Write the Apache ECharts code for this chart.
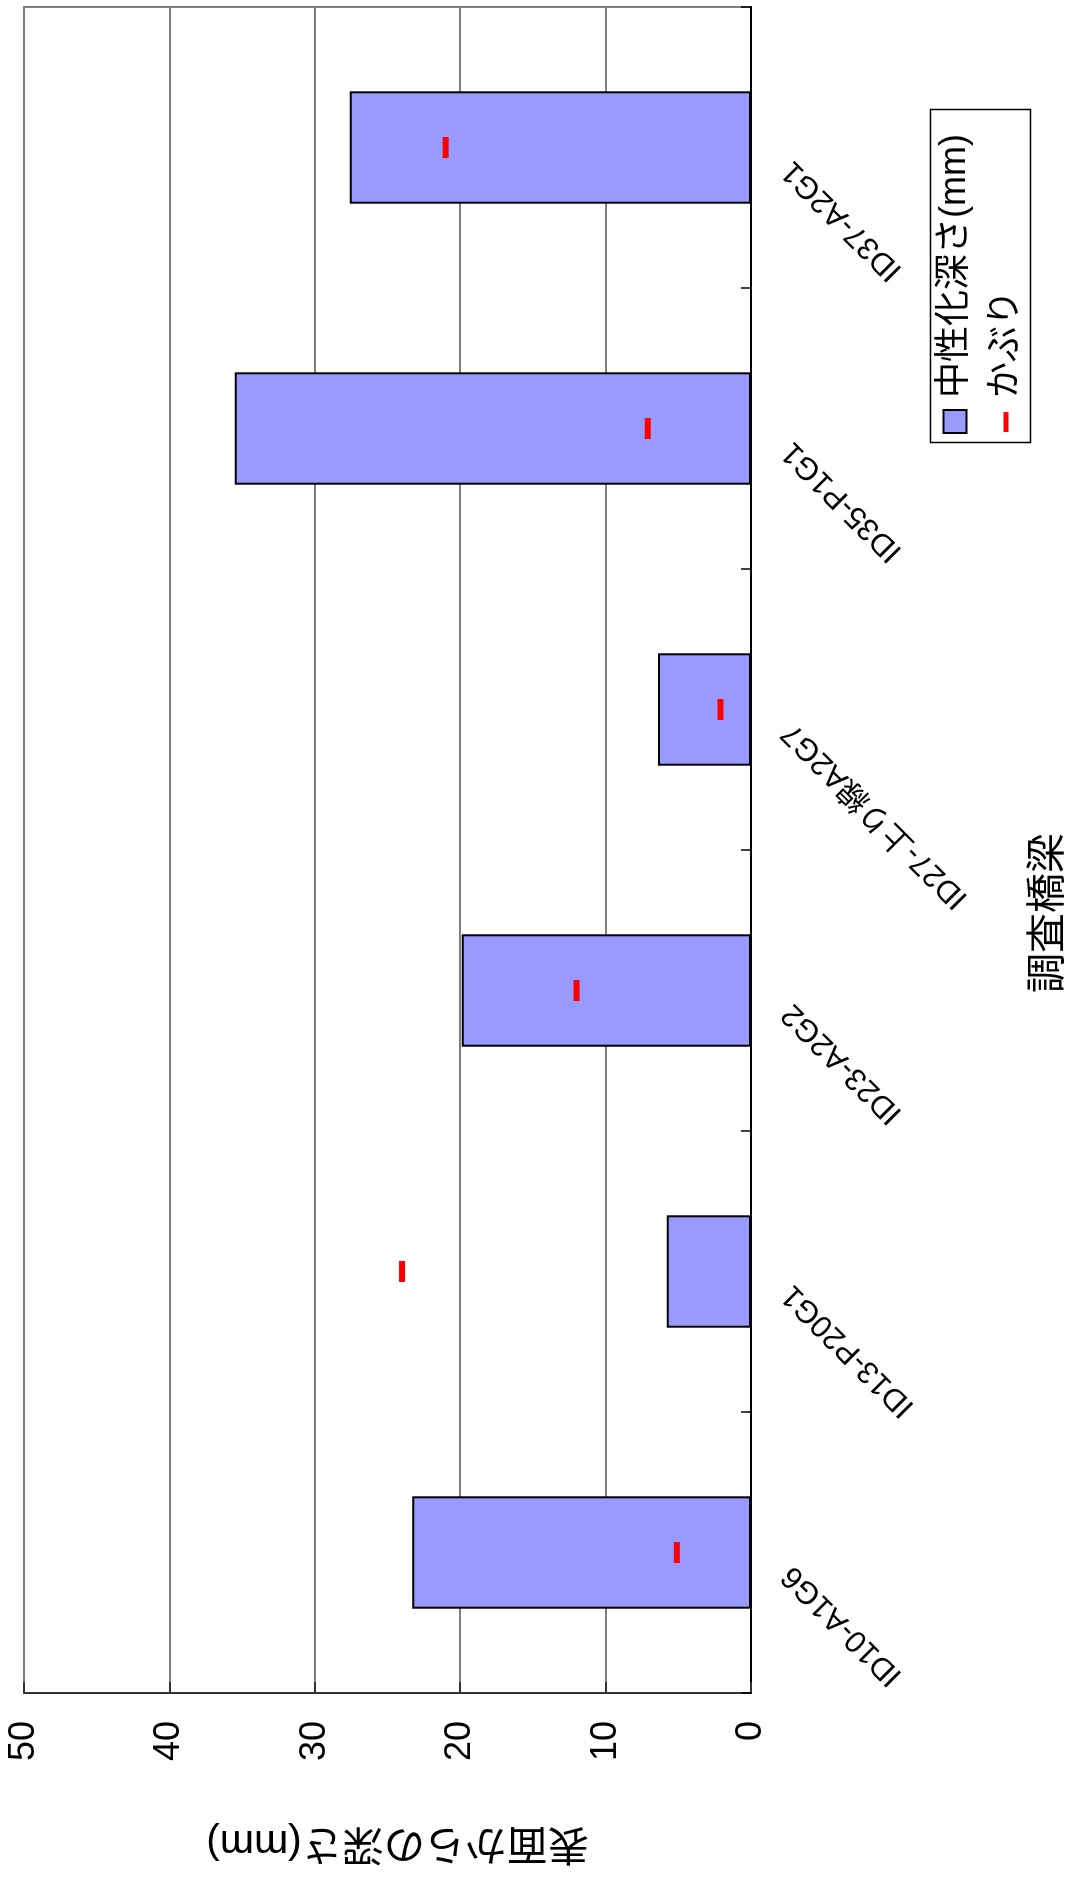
<!DOCTYPE html>
<html>
<head>
<meta charset="utf-8">
<script src="https://cdn.jsdelivr.net/npm/echarts@6/dist/echarts.min.js"></script>
<style>
  html, body { margin: 0; padding: 0; background: #fff; overflow: hidden; width: 1076px; height: 1878px; }
  /* The chart is laid out landscape and turned a quarter-turn counter-clockwise onto the portrait page */
  #chart { position: absolute; left: 0; top: 0; width: 1878px; height: 1076px;
           transform-origin: 0 0; transform: translateY(1878px) rotate(-90deg); }
</style>
</head>
<body>
<div id="chart"></div>
<script>
// Surveyed bridge girders
const bridges = ['ID10-A1G6', 'ID13-P20G1', 'ID23-A2G2', 'ID27-上り線A2G7', 'ID35-P1G1', 'ID37-A2G1'];
// Carbonation depth (mm)
const carbonationDepth = [23.3, 5.8, 19.9, 6.4, 35.5, 27.6];
// Concrete cover (mm)
const coverDepth = [5.1, 24.0, 12.0, 2.1, 7.1, 21.0];
// Depth axis ticks
const depthMin = 0;
const depthMax = 50;
const depthStep = 10;

const FONT = "'Liberation Sans', 'Noto Sans CJK JP', sans-serif";
const chart = echarts.init(document.getElementById('chart'), null, { renderer: 'canvas' });

chart.setOption({
  backgroundColor: '#ffffff',
  animation: false,
  grid: {
    left: 185, right: 7, top: 24, bottom: 325,
    show: true, borderColor: '#808080', borderWidth: 2, backgroundColor: '#ffffff',
    containLabel: false, outerBoundsMode: 'none'
  },
  xAxis: {
    type: 'category',
    data: bridges,
    name: '調査橋梁',
    nameLocation: 'middle',
    nameGap: 278,
    nameTextStyle: { fontSize: 40, color: '#000', fontFamily: FONT, padding: [0, 126, 0, 0] },
    axisLine: { show: true, lineStyle: { color: '#000', width: 2 } },
    axisTick: { show: true, inside: true, length: 10, lineStyle: { color: '#000', width: 1.5 } },
    axisLabel: { rotate: 45, margin: 18, fontSize: 31, color: '#000', fontFamily: FONT,
                 padding: [0, 26, 0, 0], interval: 0 },
    splitLine: { show: false }
  },
  yAxis: {
    type: 'value',
    min: depthMin, max: depthMax, interval: depthStep,
    name: '表面からの深さ(mm)',
    nameLocation: 'middle',
    nameRotate: 90,
    nameGap: 129,
    nameTextStyle: { fontSize: 41, color: '#000', fontFamily: FONT, padding: [0, 20, 0, 0] },
    axisLine: { show: true, lineStyle: { color: '#333', width: 2 } },
    axisTick: { show: true, inside: true, length: 11, lineStyle: { color: '#333', width: 2 } },
    axisLabel: { margin: 28, fontSize: 36, color: '#000', fontFamily: FONT },
    splitLine: { show: true, lineStyle: { color: '#808080', width: 2 } }
  },
  legend: [
    {
      data: [{ name: '中性化深さ(mm)', icon: 'rect' }],
      orient: 'vertical', left: 1444, top: 937, padding: 0,
      itemWidth: 23, itemHeight: 23, selectedMode: false,
      textStyle: { fontSize: 36, color: '#000', fontFamily: FONT, padding: [0, 0, 0, 7] }
    },
    {
      data: [{ name: 'かぶり', icon: 'rect' }],
      orient: 'vertical', left: 1446, top: 988, padding: 0,
      itemWidth: 20, itemHeight: 5, selectedMode: false,
      textStyle: { fontSize: 36, color: '#000', fontFamily: FONT, padding: [0, 0, 0, 9] }
    }
  ],
  graphic: [
    { type: 'rect', left: 1433, top: 928, silent: true,
      shape: { width: 333, height: 100 },
      style: { fill: 'none', stroke: '#000', lineWidth: 1.5 } }
  ],
  series: [
    {
      name: '中性化深さ(mm)',
      type: 'bar',
      data: carbonationDepth,
      barCategoryGap: '60%',
      itemStyle: { color: '#9999FF', borderColor: '#000', borderWidth: 2 },
      z: 2
    },
    {
      name: 'かぶり',
      type: 'scatter',
      data: coverDepth,
      symbol: 'rect',
      symbolSize: [21, 6],
      itemStyle: { color: '#FF0000', opacity: 1 },
      z: 3
    }
  ]
});
</script>
</body>
</html>
